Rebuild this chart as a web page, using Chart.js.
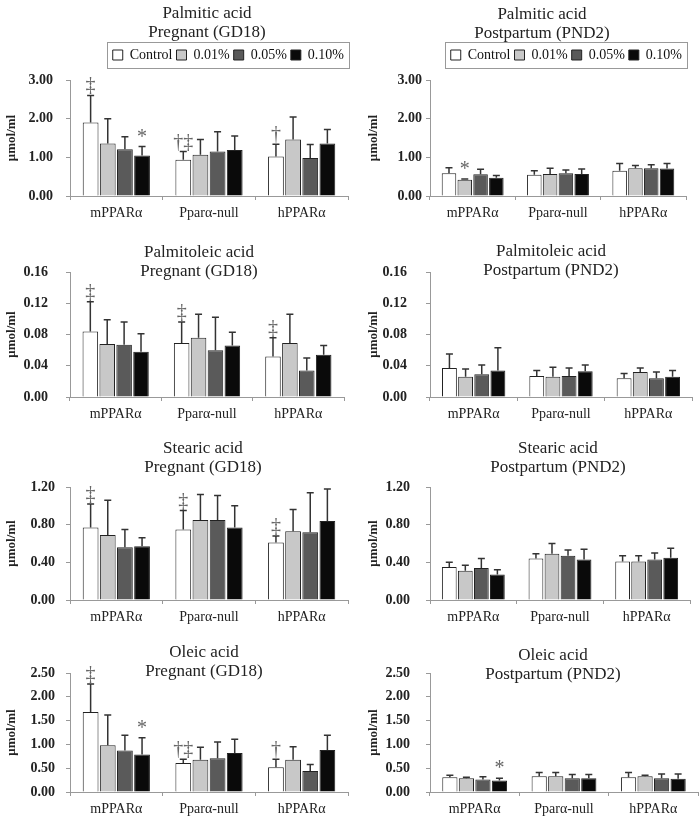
<!DOCTYPE html>
<html>
<head>
<meta charset="utf-8">
<script src="https://cdn.jsdelivr.net/npm/chart.js@4"></script>
<style>
  body { margin: 0; background: #fff; width: 700px; height: 820px; position: relative; overflow: hidden; font-family: "Liberation Serif", "Times New Roman", serif; }
  canvas { position: absolute; }
  .ttl { position: absolute; font-size: 17px; line-height: 19px; text-align: center; white-space: nowrap; transform: translateX(-50%); color: #222; }
</style>
</head>
<body>
<script>
const groups = ["mPPARα", "Pparα-null", "hPPARα"];
const doses = ["Control", "0.01%", "0.05%", "0.10%"];
const fills = ["#ffffff", "#c8c8c8", "#5a5a5a", "#0a0a0a"];

// each inner array = one dose across the three genotypes
const palmGDMean = [[1.90, 0.94, 1.02], [1.36, 1.07, 1.46], [1.21, 1.15, 0.98], [1.05, 1.19, 1.36]];
const palmGDSd   = [[0.70, 0.21, 0.32], [0.64, 0.39, 0.58], [0.32, 0.51, 0.35], [0.23, 0.36, 0.36]];
const palmPNMean = [[0.59, 0.55, 0.65], [0.42, 0.57, 0.72], [0.56, 0.59, 0.72], [0.47, 0.57, 0.71]];
const palmPNSd   = [[0.14, 0.10, 0.19], [0.02, 0.15, 0.07], [0.13, 0.08, 0.09], [0.06, 0.13, 0.13]];

const poleGDMean = [[0.084, 0.069, 0.052], [0.068, 0.076, 0.069], [0.067, 0.060, 0.034], [0.058, 0.066, 0.054]];
const poleGDSd   = [[0.038, 0.027, 0.024], [0.031, 0.030, 0.037], [0.029, 0.042, 0.016], [0.023, 0.017, 0.012]];
const polePNMean = [[0.037, 0.027, 0.024], [0.026, 0.026, 0.032], [0.029, 0.027, 0.024], [0.034, 0.033, 0.026]];
const polePNSd   = [[0.018, 0.007, 0.006], [0.010, 0.012, 0.005], [0.012, 0.010, 0.008], [0.029, 0.008, 0.008]];

const stearGDMean = [[0.77, 0.75, 0.61], [0.69, 0.85, 0.73], [0.56, 0.85, 0.72], [0.57, 0.77, 0.84]];
const stearGDSd   = [[0.25, 0.20, 0.07], [0.37, 0.27, 0.23], [0.19, 0.26, 0.42], [0.09, 0.23, 0.34]];
const stearPNMean = [[0.35, 0.44, 0.41], [0.31, 0.49, 0.41], [0.34, 0.47, 0.43], [0.27, 0.43, 0.45]];
const stearPNSd   = [[0.05, 0.05, 0.06], [0.06, 0.11, 0.06], [0.10, 0.06, 0.07], [0.05, 0.11, 0.10]];

const oleGDMean = [[1.68, 0.61, 0.52], [0.98, 0.68, 0.68], [0.87, 0.71, 0.44], [0.79, 0.82, 0.88]];
const oleGDSd   = [[0.59, 0.08, 0.17], [0.64, 0.26, 0.27], [0.32, 0.34, 0.14], [0.35, 0.29, 0.31]];
const olePNMean = [[0.31, 0.33, 0.31], [0.29, 0.33, 0.33], [0.26, 0.29, 0.29], [0.24, 0.29, 0.28]];
const olePNSd   = [[0.04, 0.08, 0.10], [0.02, 0.08, 0.02], [0.06, 0.08, 0.09], [0.05, 0.08, 0.10]];

// significance marks: [genotype, dose, symbol]
const gdMarks = [[0, 0, "‡"], [0, 3, "*"], [1, 0, "†‡"], [2, 0, "†"]];
const ctrlMarks = [[0, 0, "‡"], [1, 0, "‡"], [2, 0, "‡"]];

const panels = [
  { t: ["Palmitic acid", "Pregnant (GD18)"], mean: palmGDMean, sd: palmGDSd, max: 3, step: 1, marks: gdMarks },
  { t: ["Palmitic acid", "Postpartum (PND2)"], mean: palmPNMean, sd: palmPNSd, max: 3, step: 1, marks: [[0, 1, "*"]] },
  { t: ["Palmitoleic acid", "Pregnant (GD18)"], mean: poleGDMean, sd: poleGDSd, max: 0.16, step: 0.04, marks: ctrlMarks },
  { t: ["Palmitoleic acid", "Postpartum (PND2)"], mean: polePNMean, sd: polePNSd, max: 0.16, step: 0.04, marks: [] },
  { t: ["Stearic acid", "Pregnant (GD18)"], mean: stearGDMean, sd: stearGDSd, max: 1.2, step: 0.4, marks: ctrlMarks },
  { t: ["Stearic acid", "Postpartum (PND2)"], mean: stearPNMean, sd: stearPNSd, max: 1.2, step: 0.4, marks: [] },
  { t: ["Oleic acid", "Pregnant (GD18)"], mean: oleGDMean, sd: oleGDSd, max: 2.5, step: 0.5, marks: gdMarks },
  { t: ["Oleic acid", "Postpartum (PND2)"], mean: olePNMean, sd: olePNSd, max: 2.5, step: 0.5, marks: [[0, 3, "*"]] }
];

// layout
const rowTop = [0, 224, 425, 628];
const rowBottom = [224, 425, 628, 820];
const plotTop = [80, 272, 487, 673];
const yTickPad = [13, 4, 18, 19, 11, 16, 11, 16];
const plotRight = [348, 686, 344, 692, 348, 690, 348, 698];
const titleX = [207, 542, 199, 551, 203, 558, 204, 553];
const titleY = [3, 4, 242, 241, 438, 438, 642, 645];

Chart.defaults.font.family = '"Liberation Serif", "Times New Roman", serif';
Chart.defaults.color = "#222";

const errorBars = {
  id: "errorBars",
  afterDatasetsDraw(chart) {
    const ctx = chart.ctx, y = chart.scales.y;
    ctx.save();
    ctx.strokeStyle = "#333";
    ctx.lineWidth = 1.5;
    chart.data.datasets.forEach((ds, i) => {
      chart.getDatasetMeta(i).data.forEach((bar, j) => {
        const top = y.getPixelForValue(ds.data[j] + ds.sd[j]);
        ctx.beginPath();
        ctx.moveTo(bar.x, bar.y);
        ctx.lineTo(bar.x, top);
        ctx.moveTo(bar.x - 3.5, top);
        ctx.lineTo(bar.x + 3.5, top);
        ctx.stroke();
      });
    });
    ctx.restore();
  }
};

function marksPlugin(list) {
  return {
    id: "marks",
    afterDatasetsDraw(chart) {
      const ctx = chart.ctx, y = chart.scales.y;
      ctx.save();
      ctx.fillStyle = "#666";
      ctx.font = '20px "Liberation Serif"';
      ctx.textAlign = "center";
      ctx.textBaseline = "alphabetic";
      list.forEach(([g, s, txt]) => {
        const ds = chart.data.datasets[s];
        const bar = chart.getDatasetMeta(s).data[g];
        const top = y.getPixelForValue(ds.data[g] + ds.sd[g]);
        ctx.fillText(txt, bar.x, top - 4);
      });
      ctx.restore();
    }
  };
}

// legend gets a little extra room below it and a thin frame
const legendFrame = {
  id: "legendFrame",
  beforeInit(chart) {
    const fit = chart.legend.fit;
    chart.legend.fit = function () {
      fit.bind(chart.legend)();
      this.height += 8;
    };
  },
  afterDraw(chart) {
    const hb = chart.legend.legendHitBoxes;
    if (!hb || !hb.length) return;
    const last = hb[hb.length - 1];
    const cy = hb[0].top + hb[0].height / 2;
    const ctx = chart.ctx;
    ctx.save();
    ctx.strokeStyle = "#999";
    ctx.lineWidth = 1;
    ctx.strokeRect(Math.round(hb[0].left - 6) + 0.5, Math.round(cy - 13) + 0.5,
      Math.round(last.left + last.width - hb[0].left + 11), 26);
    ctx.restore();
  }
};

panels.forEach((p, k) => {
  const col = k % 2, row = Math.floor(k / 2);
  const h = rowBottom[row] - rowTop[row];
  const cv = document.createElement("canvas");
  cv.width = 350;
  cv.height = h;
  cv.style.left = col * 350 + "px";
  cv.style.top = rowTop[row] + "px";
  document.body.appendChild(cv);

  const ttl = document.createElement("div");
  ttl.className = "ttl";
  ttl.style.left = titleX[k] + "px";
  ttl.style.top = titleY[k] + "px";
  ttl.innerHTML = p.t.join("<br>");
  document.body.appendChild(ttl);

  const hasLegend = row === 0;
  const padTop = hasLegend ? plotTop[row] - 36 : plotTop[row] - rowTop[row];
  const plugins = [errorBars, marksPlugin(p.marks)];
  if (hasLegend) plugins.push(legendFrame);

  new Chart(cv, {
    type: "bar",
    data: {
      labels: groups,
      datasets: doses.map((d, i) => ({
        label: d,
        data: p.mean[i],
        sd: p.sd[i],
        backgroundColor: fills[i],
        borderColor: "#222",
        borderWidth: 1,
        categoryPercentage: 0.74,
        barPercentage: 0.92
      }))
    },
    options: {
      responsive: false,
      animation: false,
      layout: { padding: { top: padTop, right: 350 * (col + 1) - plotRight[k], left: 0, bottom: 0 } },
      plugins: {
        legend: {
          display: hasLegend,
          align: "end",
          labels: { font: { size: 14 }, boxWidth: 10, boxHeight: 10, padding: 4, color: "#111" }
        },
        tooltip: { enabled: false }
      },
      scales: {
        x: {
          grid: { drawOnChartArea: false, tickLength: 4, color: "#999" },
          border: { color: "#999" },
          ticks: { font: { size: 14 }, padding: 5, color: "#222" },
          afterFit(s) { s.height = 28; }
        },
        y: {
          min: 0,
          max: p.max,
          grid: { drawOnChartArea: false, tickLength: 4, color: "#999" },
          border: { color: "#999" },
          ticks: {
            stepSize: p.step,
            padding: yTickPad[k],
            font: { size: 14, weight: "bold" },
            color: "#222",
            callback: v => Number(v).toFixed(2)
          },
          title: {
            display: true,
            text: "μmol/ml",
            font: { size: 13, weight: "bold" },
            color: "#222",
            padding: { top: col ? 16 : 4, bottom: 0 }
          },
          afterFit(s) { s.width = col ? 80 : 70; }
        }
      }
    },
    plugins: plugins
  });
});
</script>
</body>
</html>
